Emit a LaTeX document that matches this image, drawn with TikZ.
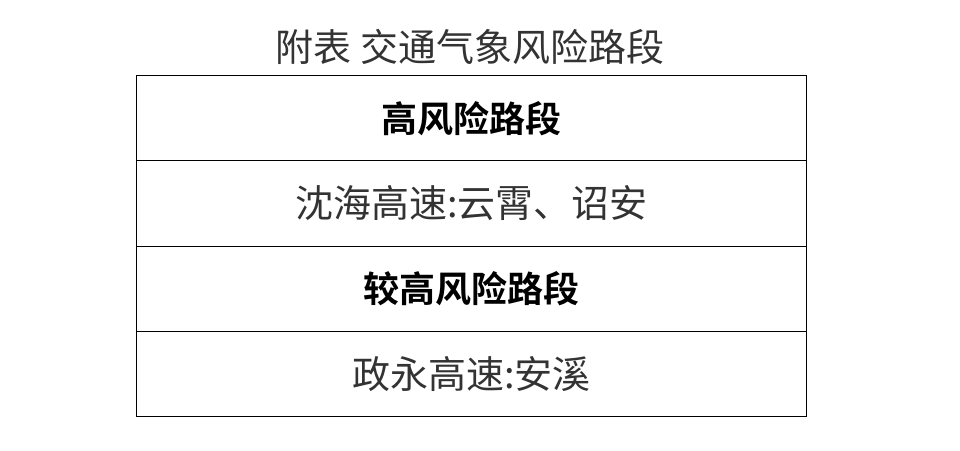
\documentclass[tikz,border=0pt]{standalone}
\usepackage{fontspec}
\newfontfamily\cjk{Noto Sans CJK SC}
\newfontfamily\cjkb{Noto Sans CJK SC Bold}
\begin{document}
\begin{tikzpicture}[x=1pt,y=-1pt,
  cell/.style={draw=black,line width=1.2pt,minimum width=670pt,minimum height=85.25pt,inner sep=0pt,anchor=north west},
  head/.style={cell,font=\cjkb\fontsize{36}{40}\selectfont},
  body/.style={cell,font=\cjk\fontsize{38}{42}\selectfont,text=black!80}]
\useasboundingbox (0,0) rectangle (960,450);
\node[font=\cjk\fontsize{38}{42}\selectfont,text=black!80] (title) at (470,47) {附表\ 交通气象风险路段};
\node[head] (h1) at (136,75) {高风险路段};
\node[body] (b1) at (136,160.25) {沈海高速:云霄、诏安};
\node[head] (h2) at (136,245.5) {较高风险路段};
\node[body] (b2) at (136,330.75) {政永高速:安溪};
\end{tikzpicture}
\end{document}
